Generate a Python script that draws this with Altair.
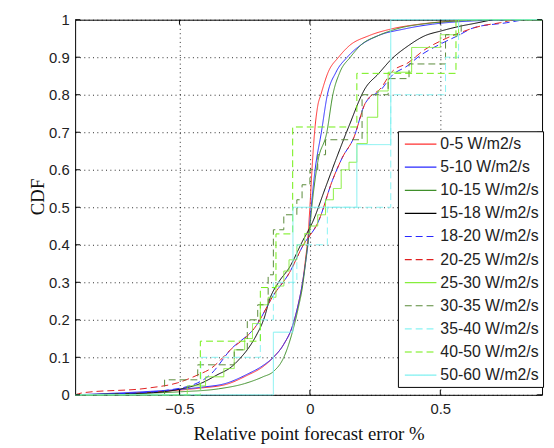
import altair as alt
import pandas as pd

# ---------------- data ----------------
X_TICKS = [-0.5, 0.0, 0.5]
Y_TICKS = [0.0, 0.1, 0.2, 0.3, 0.4, 0.5, 0.6, 0.7, 0.8, 0.9, 1.0]

NAMES = ["0-5 W/m2/s", "5-10 W/m2/s", "10-15 W/m2/s", "15-18 W/m2/s",
         "18-20 W/m2/s", "20-25 W/m2/s", "25-30 W/m2/s", "30-35 W/m2/s",
         "35-40 W/m2/s", "40-50 W/m2/s", "50-60 W/m2/s"]
COLORS = ["#ff3030", "#2828ff", "#3f8f2a", "#000000", "#2828ff", "#e02020",
          "#86ee3c", "#5a8a3a", "#8af4f4", "#70ee10", "#7ef0f0"]
DASHES = [[1, 0], [1, 0], [1, 0], [1, 0], [7, 4], [7, 4],
          [1, 0], [7, 4], [7, 4], [7, 4], [1, 0]]

# smooth CDFs
s1_x = [-0.90, -0.70, -0.55, -0.42, -0.32, -0.24, -0.18, -0.14, -0.10, -0.066, -0.045, -0.028, -0.017, -0.009, 0.0, 0.008, 0.018, 0.030, 0.042, 0.070, 0.110, 0.150, 0.225, 0.310, 0.420, 0.520, 0.700]
s1_y = [0.000, 0.004, 0.010, 0.018, 0.028, 0.052, 0.075, 0.100, 0.135, 0.185, 0.240, 0.300, 0.360, 0.410, 0.500, 0.600, 0.700, 0.770, 0.800, 0.860, 0.900, 0.930, 0.957, 0.975, 0.988, 0.995, 1.000]

s2_x = [-0.90, -0.70, -0.55, -0.42, -0.32, -0.24, -0.18, -0.14, -0.10, -0.066, -0.045, -0.028, -0.015, -0.006, 0.005, 0.020, 0.044, 0.067, 0.100, 0.143, 0.190, 0.260, 0.360, 0.470, 0.580, 0.800]
s2_y = [0.000, 0.006, 0.012, 0.020, 0.031, 0.055, 0.078, 0.100, 0.135, 0.185, 0.240, 0.300, 0.360, 0.410, 0.500, 0.600, 0.700, 0.800, 0.860, 0.900, 0.930, 0.957, 0.975, 0.988, 0.995, 1.000]

s3_x = [-0.90, -0.70, -0.50, -0.35, -0.25, -0.18, -0.14, -0.10, -0.066, -0.045, -0.028, -0.012, 0.0, 0.012, 0.030, 0.065, 0.088, 0.115, 0.155, 0.200, 0.260, 0.330, 0.450, 0.550, 0.680]
s3_y = [0.000, 0.003, 0.008, 0.016, 0.030, 0.048, 0.062, 0.100, 0.170, 0.230, 0.290, 0.380, 0.450, 0.530, 0.620, 0.700, 0.800, 0.860, 0.900, 0.935, 0.957, 0.975, 0.990, 0.996, 1.000]

s4_x = [-0.90, -0.60, -0.50, -0.42, -0.356, -0.30, -0.268, -0.235, -0.205, -0.175, -0.154, -0.12, -0.078, -0.028, 0.010, 0.060, 0.098, 0.149, 0.212, 0.263, 0.313, 0.376, 0.440, 0.503, 0.578, 0.630, 0.700]
s4_y = [0.000, 0.006, 0.015, 0.030, 0.053, 0.075, 0.097, 0.125, 0.159, 0.205, 0.255, 0.300, 0.340, 0.410, 0.460, 0.553, 0.624, 0.715, 0.817, 0.856, 0.895, 0.930, 0.957, 0.970, 0.983, 0.990, 1.000]

s5_x = [-0.90, -0.70, -0.55, -0.43, -0.38, -0.306, -0.205, -0.141, -0.078, -0.028, 0.035, 0.086, 0.124, 0.168, 0.212, 0.275, 0.313, 0.376, 0.414, 0.500, 0.566, 0.630, 0.755, 0.820]
s5_y = [0.000, 0.004, 0.012, 0.032, 0.055, 0.119, 0.185, 0.264, 0.326, 0.396, 0.466, 0.571, 0.632, 0.685, 0.777, 0.815, 0.850, 0.878, 0.900, 0.935, 0.957, 0.979, 0.992, 1.000]

s6_x = [-0.90, -0.874, -0.62, -0.507, -0.43, -0.38, -0.306, -0.205, -0.141, -0.078, -0.028, 0.035, 0.086, 0.124, 0.168, 0.212, 0.275, 0.313, 0.376, 0.440, 0.503, 0.578, 0.654, 0.730, 0.780]
s6_y = [0.000, 0.005, 0.018, 0.032, 0.053, 0.070, 0.119, 0.185, 0.264, 0.326, 0.396, 0.466, 0.571, 0.632, 0.685, 0.777, 0.820, 0.860, 0.885, 0.920, 0.944, 0.966, 0.983, 0.992, 1.000]

# empirical (step) CDFs
s7_x = [-0.90, -0.47, -0.40, -0.33, -0.29, -0.25, -0.22, -0.19, -0.16, -0.13, -0.10, -0.08, -0.05, -0.02, 0.00, 0.03, 0.06, 0.09, 0.12, 0.15, 0.18, 0.22, 0.26, 0.30, 0.39, 0.50, 0.57, 0.89]
s7_y = [0.000, 0.024, 0.048, 0.070, 0.120, 0.150, 0.190, 0.240, 0.260, 0.290, 0.330, 0.360, 0.400, 0.430, 0.450, 0.480, 0.520, 0.550, 0.600, 0.620, 0.670, 0.740, 0.810, 0.860, 0.926, 0.960, 1.000, 1.000]

s8_x = [-0.90, -0.557, -0.43, -0.29, -0.24, -0.20, -0.16, -0.14, -0.10, -0.05, -0.03, 0.0, 0.03, 0.06, 0.11, 0.20, 0.30, 0.38, 0.52, 0.58, 0.89]
s8_y = [0.000, 0.040, 0.080, 0.120, 0.200, 0.240, 0.320, 0.440, 0.480, 0.520, 0.560, 0.600, 0.640, 0.680, 0.680, 0.800, 0.843, 0.882, 0.960, 1.000, 1.000]

s9_x = [-0.90, -0.418, -0.19, -0.14, -0.05, 0.067, 0.31, 0.52, 0.57, 0.89]
s9_y = [0.000, 0.100, 0.200, 0.300, 0.400, 0.500, 0.800, 0.900, 1.000, 1.000]

s10_x = [-0.90, -0.42, -0.19, -0.13, -0.066, 0.18, 0.56, 0.89]
s10_y = [0.000, 0.143, 0.286, 0.429, 0.714, 0.857, 1.000, 1.000]

s11_x = [-0.90, -0.14, -0.065, 0.18, 0.31, 0.89]
s11_y = [0.000, 0.167, 0.500, 0.667, 1.000, 1.000]

SMOOTH = [(s1_x, s1_y), (s2_x, s2_y), (s3_x, s3_y), (s4_x, s4_y), (s5_x, s5_y), (s6_x, s6_y)]
STEPS = [(s7_x, s7_y), (s8_x, s8_y), (s9_x, s9_y), (s10_x, s10_y), (s11_x, s11_y)]


def frame(pairs, offset):
    rows = []
    for k, (xs, ys) in enumerate(pairs):
        for i, (x, y) in enumerate(zip(xs, ys)):
            rows.append({"series": NAMES[offset + k], "x": x, "y": y, "i": i})
    return pd.DataFrame(rows)


df_smooth = frame(SMOOTH, 0)
df_step = frame(STEPS, 6)

W, H = 473, 380
xscale = alt.Scale(domain=[-0.9, 0.89], nice=False, zero=False)
yscale = alt.Scale(domain=[0, 1], nice=False, zero=False)

color = alt.Color("series:N", scale=alt.Scale(domain=NAMES, range=COLORS),
                  legend=alt.Legend(title=None))
dash = alt.StrokeDash("series:N", scale=alt.Scale(domain=NAMES, range=DASHES),
                      legend=alt.Legend(title=None))

xaxis = alt.Axis(values=X_TICKS, title="Relative point forecast error %",
                 format="~g", grid=True, tickSize=0, labelPadding=7,
                 titlePadding=8, labelOverlap=False)
yaxis = alt.Axis(values=Y_TICKS, title="CDF", format="~g", grid=True,
                 tickSize=0, labelPadding=6, titleX=-38, titleY=179,
                 titleBaseline="middle", labelOverlap=False)


def X(field):
    return alt.X(field, scale=xscale, axis=xaxis)


def Y(field):
    return alt.Y(field, scale=yscale, axis=yaxis)


smooth = alt.Chart(df_smooth).mark_line(strokeWidth=1, interpolate="monotone").encode(
    x=X("x:Q"), y=Y("y:Q"),
    color=color, strokeDash=dash, order="i:Q", detail="series:N",
)
steps = alt.Chart(df_step).mark_line(strokeWidth=1, interpolate="step-after").encode(
    x=X("x:Q"), y=Y("y:Q"),
    color=color, strokeDash=dash, order="i:Q", detail="series:N",
)

yt = pd.DataFrame({"v": Y_TICKS})
xt = pd.DataFrame({"v": X_TICKS})
tl = alt.Chart(yt).mark_rule(color="black", strokeWidth=1).encode(
    y=Y("v:Q"), x=alt.value(0), x2=alt.value(5))
tr = alt.Chart(yt).mark_rule(color="black", strokeWidth=1).encode(
    y=Y("v:Q"), x=alt.value(W - 5), x2=alt.value(W))
tb = alt.Chart(xt).mark_rule(color="black", strokeWidth=1).encode(
    x=X("v:Q"), y=alt.value(H - 5), y2=alt.value(H))
tt = alt.Chart(xt).mark_rule(color="black", strokeWidth=1).encode(
    x=X("v:Q"), y=alt.value(0), y2=alt.value(5))

chart = alt.layer(smooth, steps, tl, tr, tb, tt).properties(
    width=W, height=H,
    autosize=alt.AutoSizeParams(type="none"),
    padding={"left": 68, "top": 9, "right": 4, "bottom": 50},
).configure_view(
    stroke="black", strokeWidth=1
).configure_axis(
    gridColor="#000000", gridDash=[1, 3.4], gridOpacity=0.85, gridWidth=1,
    domain=False,
    labelFont="Liberation Sans", labelFontSize=15, labelColor="#222222",
    titleFont="Liberation Serif", titleFontSize=19, titleFontWeight="normal",
    titleColor="#111111",
).configure_legend(
    orient="none", legendX=327, legendY=113,
    strokeColor="#000000", fillColor="#ffffff", padding=4,
    symbolType="M-2,0H2", symbolSize=256, symbolStrokeWidth=1.2,
    symbolOffset=10, labelOffset=11, rowPadding=6.4,
    labelFont="Liberation Sans", labelFontSize=16, labelColor="#222222",
    labelLimit=200,
)

chart.save("out.html", embed_options={"renderer": "svg", "actions": False})
